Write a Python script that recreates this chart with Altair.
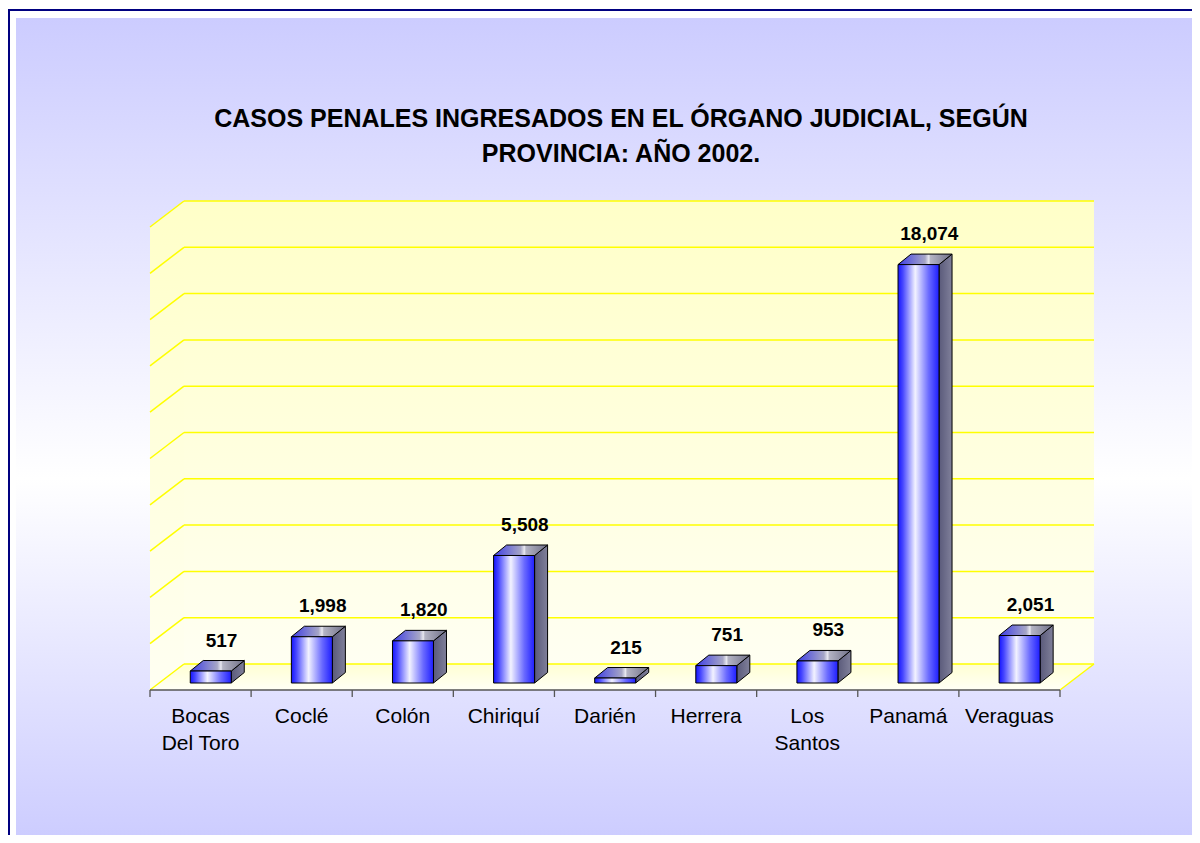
import altair as alt
import pandas as pd

# ---------------- data ----------------
CATEGORIES = ["Bocas\nDel Toro", "Coclé", "Colón", "Chiriquí", "Darién",
              "Herrera", "Los\nSantos", "Panamá", "Veraguas"]
VALUES = [517, 1998, 1820, 5508, 215, 751, 953, 18074, 2051]
GRID = [0, 2000, 4000, 6000, 8000, 10000, 12000, 14000, 16000, 18000, 20000]
TITLE_LINES = ["CASOS PENALES INGRESADOS EN EL ÓRGANO JUDICIAL, SEGÚN",
               "PROVINCIA: AÑO 2002."]

# ---------------- geometry (3-D look) ----------------
N = len(CATEGORIES)
W, H = 944, 489
Y_MAX = GRID[-1]
PX_X = 101.1                 # px per category band
PX_Y = 463.0 / Y_MAX         # px per value unit
DEPTH_X = 34 / PX_X          # floor depth
DEPTH_Y = 26 / PX_Y
FLOOR = -DEPTH_Y
X_MAX = N + DEPTH_X
BASE = FLOOR + 7 / PX_Y      # bar front base
FRONT_DX = 10.2 / PX_X
HALF_W = 20.5 / PX_X
BDX = 13 / PX_X              # bar depth
BDY = 10.5 / PX_Y
LBL_DX = 21 / PX_X

FONT = "Liberation Sans"

xs = alt.Scale(domain=[0, X_MAX], nice=False, zero=False)
ys = alt.Scale(domain=[FLOOR, Y_MAX], nice=False, zero=False)

def fmt(v):
    return f"{v:,}"

bars = pd.DataFrame({"name": CATEGORIES, "value": VALUES})
bars["label"] = bars["value"].map(fmt)
bars["center"] = [i + 0.5 for i in range(N)]
bars["x1"] = bars["center"] + FRONT_DX - HALF_W
bars["x2"] = bars["center"] + FRONT_DX + HALF_W
bars["y0"] = BASE
bars["y1"] = BASE + bars["value"]
bars["lx"] = bars["center"] + LBL_DX
bars["ly"] = bars["y1"] + BDY

side_rows, top_rows = [], []
for _, r in bars.iterrows():
    side_rows.append({"name": r["name"], "sx": r["x2"], "st": r["y1"], "sb": r["y0"]})
    side_rows.append({"name": r["name"], "sx": r["x2"] + BDX, "st": r["y1"] + BDY,
                      "sb": r["y0"] + BDY})
    top_rows.append({"name": r["name"], "ty": r["y1"], "tl": r["x1"], "tr": r["x2"]})
    top_rows.append({"name": r["name"], "ty": r["y1"] + BDY, "tl": r["x1"] + BDX,
                     "tr": r["x2"] + BDX})
side = pd.DataFrame(side_rows)
top = pd.DataFrame(top_rows)

grid = pd.DataFrame({"v": GRID})
grid["bx0"] = DEPTH_X
grid["bx1"] = X_MAX
grid["sx0"] = 0.0
grid["sy0"] = grid["v"] - DEPTH_Y
grid["sx1"] = DEPTH_X

one = pd.DataFrame({"a": [0]})

def lin(x1, y1, x2, y2, stops):
    return {"gradient": "linear", "x1": x1, "y1": y1, "x2": x2, "y2": y2,
            "stops": [{"offset": o, "color": c} for o, c in stops]}

BG = lin(0, 0, 0, 1, [(0, "#CCCCFF"), (0.56, "#FFFFFF"), (1, "#CCCCFF")])
WALL = lin(0, 0, 0, 1, [(0, "#FFFFC8"), (1, "#FFFFF2")])
FLOOR_G = lin(0, 0, 0, 1, [(0, "#FFFFD2"), (1, "#FFFFF6")])
FRONT = lin(0, 0, 1, 0, [(0, "#1414FF"), (0.12, "#4848FF"), (0.42, "#F2F2FF"),
                          (0.75, "#6A6AFF"), (1, "#1E1EFF")])
SIDE = lin(0, 0, 1, 0, [(0, "#5A5A7A"), (1, "#80809A")])
TOP = lin(0, 0, 1, 0, [(0, "#3C3CE6"), (0.5, "#A6A6C6"), (0.57, "#E8E8F0"),
                        (0.6, "#B4B4C4"), (1, "#6E6E86")])

# ---------------- layers ----------------
background = alt.Chart(one).mark_rect(fill=BG).encode(
    x=alt.value(-134), x2=alt.value(1100), y=alt.value(-183), y2=alt.value(640))

border_left = alt.Chart(one).mark_rule(color="#000080", strokeWidth=2).encode(
    x=alt.value(-141), y=alt.value(-192), y2=alt.value(700))
border_top = alt.Chart(one).mark_rule(color="#000080", strokeWidth=2).encode(
    x=alt.value(-142), x2=alt.value(1100), y=alt.value(-191))

wall_df = pd.DataFrame({"x": [DEPTH_X], "x2": [X_MAX], "y": [0.0], "y2": [float(Y_MAX)]})
back_wall = alt.Chart(wall_df).mark_rect(fill=WALL).encode(
    x=alt.X("x:Q", scale=xs, axis=None), x2="x2:Q",
    y=alt.Y("y:Q", scale=ys, axis=None), y2="y2:Q")

lwall_df = pd.DataFrame({"x": [0.0, DEPTH_X], "y": [FLOOR, 0.0],
                         "y2": [Y_MAX - DEPTH_Y, float(Y_MAX)]})
left_wall = alt.Chart(lwall_df).mark_area(orient="vertical", fill=WALL).encode(
    x=alt.X("x:Q", scale=xs, axis=None),
    y=alt.Y("y:Q", scale=ys, axis=None, stack=None), y2="y2:Q")

floor_df = pd.DataFrame({"y": [FLOOR, 0.0], "x": [0.0, DEPTH_X], "x2": [float(N), X_MAX]})
floor = alt.Chart(floor_df).mark_area(orient="horizontal", fill=FLOOR_G).encode(
    y=alt.Y("y:Q", scale=ys, axis=None, stack=None),
    x=alt.X("x:Q", scale=xs, axis=None), x2="x2:Q")

grid_back = alt.Chart(grid).mark_rule(color="#FFFF00", strokeWidth=1.5).encode(
    x=alt.X("bx0:Q", scale=xs, axis=None), x2="bx1:Q",
    y=alt.Y("v:Q", scale=ys, axis=None))

grid_side = alt.Chart(grid).mark_rule(color="#FFFF00", strokeWidth=1.5).encode(
    x=alt.X("sx0:Q", scale=xs, axis=None), x2="sx1:Q",
    y=alt.Y("sy0:Q", scale=ys, axis=None), y2="v:Q")

edge_df = pd.DataFrame({"x": [float(N)], "y": [FLOOR], "x2": [X_MAX], "y2": [0.0]})
floor_edge = alt.Chart(edge_df).mark_rule(color="#FFFF00", strokeWidth=1.5).encode(
    x=alt.X("x:Q", scale=xs, axis=None), x2="x2:Q",
    y=alt.Y("y:Q", scale=ys, axis=None), y2="y2:Q")

axis_df = pd.DataFrame({"x": [0.0], "x2": [float(N)], "y": [FLOOR]})
axis_line = alt.Chart(axis_df).mark_rule(color="#555555", strokeWidth=1.3).encode(
    x=alt.X("x:Q", scale=xs, axis=None), x2="x2:Q",
    y=alt.Y("y:Q", scale=ys, axis=None))

ticks_df = pd.DataFrame({"x": [float(i) for i in range(N + 1)]})
ticks_df["y"] = FLOOR
ticks_df["y2"] = FLOOR - 7 / PX_Y
ticks = alt.Chart(ticks_df).mark_rule(color="#555555", strokeWidth=1.3).encode(
    x=alt.X("x:Q", scale=xs, axis=None),
    y=alt.Y("y:Q", scale=ys, axis=None), y2="y2:Q")

side_faces = alt.Chart(side).mark_area(orient="vertical", fill=SIDE, stroke="black",
                                       strokeWidth=1).encode(
    x=alt.X("sx:Q", scale=xs, axis=None),
    y=alt.Y("st:Q", scale=ys, axis=None, stack=None), y2="sb:Q",
    detail="name:N")

top_faces = alt.Chart(top).mark_area(orient="horizontal", fill=TOP, stroke="black",
                                     strokeWidth=1).encode(
    y=alt.Y("ty:Q", scale=ys, axis=None, stack=None),
    x=alt.X("tl:Q", scale=xs, axis=None), x2="tr:Q",
    detail="name:N")

front_faces = alt.Chart(bars).mark_rect(fill=FRONT, stroke="black", strokeWidth=1).encode(
    x=alt.X("x1:Q", scale=xs, axis=None), x2="x2:Q",
    y=alt.Y("y0:Q", scale=ys, axis=None), y2="y1:Q")

value_labels = alt.Chart(bars).mark_text(
    font=FONT, fontSize=19, fontWeight="bold", color="black",
    align="center", baseline="alphabetic", dy=-14).encode(
    x=alt.X("lx:Q", scale=xs, axis=None),
    y=alt.Y("ly:Q", scale=ys, axis=None), text="label:N")

cat_df = pd.DataFrame({"name": CATEGORIES, "center": [i + 0.5 for i in range(N)]})
cat_df["y"] = FLOOR
cat_labels = alt.Chart(cat_df).mark_text(
    font=FONT, fontSize=21, color="black", align="center", baseline="alphabetic",
    dy=33, lineBreak="\n", lineHeight=27).encode(
    x=alt.X("center:Q", scale=xs, axis=None),
    y=alt.Y("y:Q", scale=ys, axis=None), text="name:N")

title = alt.Chart(one).mark_text(
    font=FONT, fontSize=25, fontWeight="bold", color="black", align="center",
    baseline="alphabetic", lineBreak="\n", lineHeight=35).encode(
    x=alt.value(471), y=alt.value(-74), text=alt.value("\n".join(TITLE_LINES)))

chart = alt.layer(
    background, border_left, border_top, back_wall, left_wall, floor,
    grid_back, grid_side, floor_edge, axis_line, ticks,
    side_faces, top_faces, front_faces, value_labels, cat_labels, title
).properties(
    width=W, height=H, autosize="none",
    padding={"left": 142, "top": 193, "right": 98, "bottom": 145},
    background="white"
).configure_view(stroke=None)

chart.save("out.html", embed_options={"renderer": "svg", "actions": False})
